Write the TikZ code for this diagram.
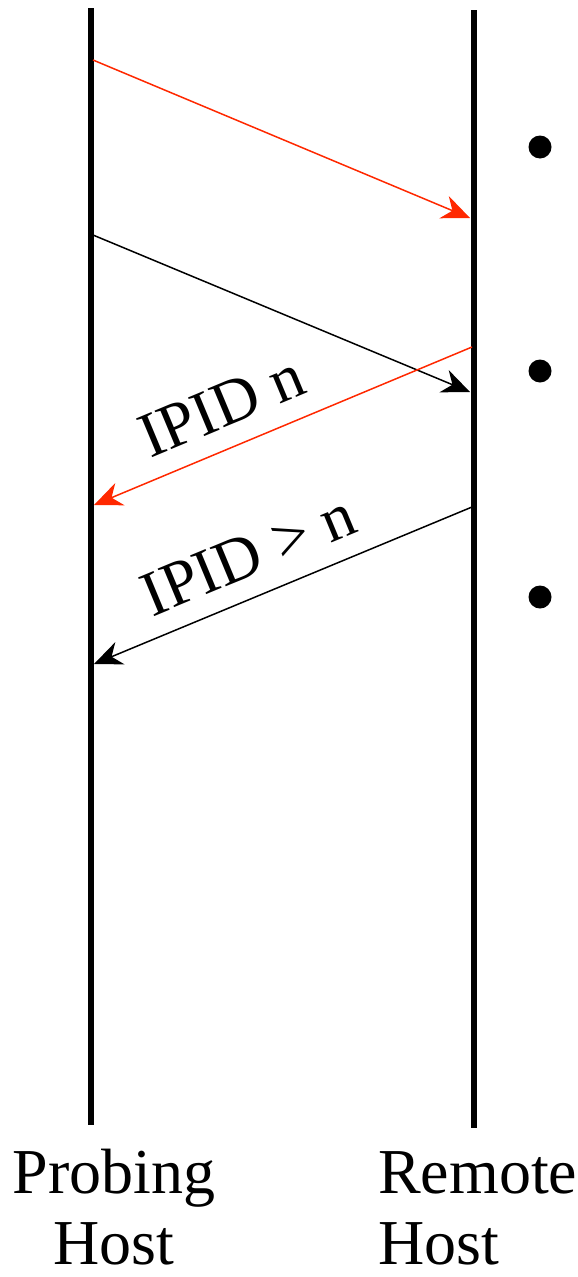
\documentclass[tikz,border=0pt]{standalone}
\usepackage{fontspec}
\setmainfont{Liberation Serif}
\usetikzlibrary{arrows.meta, positioning}
\definecolor{probered}{RGB}{255,40,0}

\begin{document}
\begin{tikzpicture}[x=1pt, y=-1pt,
        every node/.style={font=\fontsize{64}{71}\selectfont},
        lifeline/.style={line width=6pt},
        msg/.style={-{Stealth[length=28pt, width=24pt, inset=9pt]}, line width=1.5pt},
        msglabel/.style={sloped, above=20pt, inner sep=0pt, text=black},
        hostlabel/.style={inner sep=0pt},
        dotmk/.style={circle, fill, inner sep=0pt, minimum size=23pt}
    ]
    \useasboundingbox (0,0) rectangle (578,1277);
%
    % Lifelines
    \coordinate (ptop) at (91,8);
    \coordinate (pbot) at (91,1125);
    \coordinate (rtop) at (474,10);
    \coordinate (rbot) at (474,1128);
    \draw[lifeline] (ptop) -- (pbot);
    \draw[lifeline] (rtop) -- (rbot);
%
    % Message end points
    \coordinate (s1) at (93,60);   \coordinate (e1) at (470,218);
    \coordinate (s2) at (93,235);  \coordinate (e2) at (470,392);
    \coordinate (s3) at (472,347); \coordinate (e3) at (94,505);
    \coordinate (s4) at (472,507); \coordinate (e4) at (94,664);
%
    % Messages
    \draw[msg, probered] (s1) -- (e1);
    \draw[msg] (s2) -- (e2);
    \draw[msg, probered] (s3) -- (e3) node[msglabel, pos=0.62] (ipidn) {IPID n};
    \draw[msg] (s4) -- (e4) node[msglabel, pos=0.55] (ipidgt) {IPID > n};
%
    % Dots
    \node[dotmk] (d1) at (540,147) {};
    \node[dotmk] (d2) at (540,371) {};
    \node[dotmk] (d3) at (540,597) {};
%
    % Hosts
    \node[hostlabel, align=center, anchor=north] (probing) at (114,1149) {Probing\\Host};
    \node[hostlabel, align=left, anchor=north west] (remote) at (378,1151) {Remote\\Host};
%
\end{tikzpicture}
\end{document}
